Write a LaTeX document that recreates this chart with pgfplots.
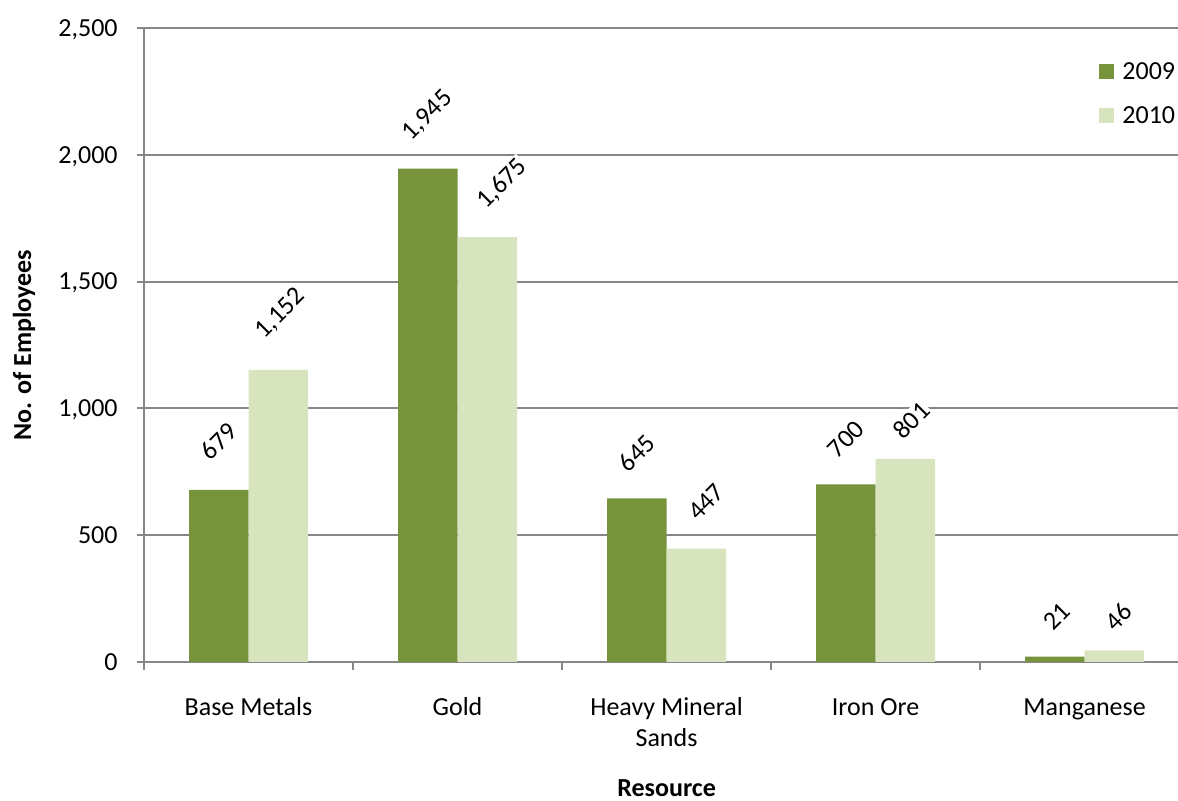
\documentclass[border=0pt]{standalone}
\usepackage{pgfplots}
\pgfplotsset{compat=1.18}
\usepackage{fontspec}
\setmainfont{Carlito}
\usepackage{graphicx}

\definecolor{darkolive}{HTML}{77933C}
\definecolor{lightolive}{HTML}{D7E4BD}
\definecolor{gridgray}{HTML}{868686}

% value label: number on a tight white patch, turned 45 degrees
\newcommand{\barlabel}[1]{{\setlength{\fboxsep}{0.6pt}\rotatebox{45}{\colorbox{white}{#1}}}}

% employees per resource; dx/dy nudge the value labels (pt)
\pgfplotstableread{
x   y     dx   dy
0   679   0    1.5
1   1945  0    0
2   645   0    0
3   700   0    0
4   21    0.8  0
}\yrA
\pgfplotstableread{
x   y     dx   dy
0   1152  1    1.5
1   1675  7.5  0
2   447   5    0.8
3   801   3   -3.5
4   46    2   -3.5
}\yrB

\begin{document}
\begin{tikzpicture}[font=\fontsize{13}{15.5}\selectfont]
\begin{axis}[
  scale only axis,
  width=517pt, height=317pt,
  xmin=-0.5, xmax=4.447,
  ymin=0, ymax=2500,
  ybar=0pt,
  bar width=29.75pt,
  axis x line*=bottom,
  axis y line*=left,
  axis line style={draw=gridgray, line width=1pt, -},
  ymajorgrids,
  major grid style={draw=gridgray, line width=1pt},
  ytick={0,500,...,2500},
  xtick={0,1,2,3,4},
  xticklabels={\strut Base Metals, \strut Gold, {\strut Heavy Mineral\\Sands}, \strut Iron Ore, \strut Manganese},
  minor xtick={-0.5,0.5,1.5,2.5,3.5},
  tick align=outside,
  major tick length=3.5pt,
  minor tick length=4pt,
  major x tick style={draw=none},
  minor x tick style={draw=gridgray, line width=1pt},
  ytick style={draw=gridgray, line width=1pt},
  /pgf/number format/1000 sep={,},
  /pgf/number format/assume math mode=true,
  xticklabel style={align=center, anchor=north, inner sep=0pt, yshift=-12.4pt},
  yticklabel style={anchor=base east, inner sep=0pt, xshift=-9.5pt, yshift=-4.2pt},
  xlabel={\bfseries Resource},
  xlabel style={at={(axis description cs:0.5054,0)}, anchor=base, inner sep=0pt, yshift=-67.5pt},
  ylabel={\bfseries No. of Employees},
  ylabel style={at={([xshift=-60pt]axis description cs:0,0.5)}, anchor=center, inner sep=0pt},
  nodes near coords={\barlabel{\pgfmathprintnumber{\pgfplotspointmeta}}},
  every node near coord/.append style={anchor=south, inner sep=0pt, yshift=11.5pt, text=black,
    xshift=\dx pt, yshift=\dy pt},
  legend style={draw=none, fill=none, at={(rel axis cs:0.9236,0.9454)}, anchor=north west,
    inner sep=0pt, column sep=4pt, row sep=13.6pt,
    nodes={inner sep=0pt, text height=8.4pt, text depth=0pt}},
  legend cell align=left,
  legend image code/.code={\path[#1, draw=none] (0pt,-3.85pt) rectangle (7.5pt,3.65pt);},
]
\addplot[fill=darkolive, draw=none,
  visualization depends on={\thisrow{dx} \as \dx},
  visualization depends on={\thisrow{dy} \as \dy}] table[x=x, y=y] {\yrA};
\addplot[fill=lightolive, draw=none,
  visualization depends on={\thisrow{dx} \as \dx},
  visualization depends on={\thisrow{dy} \as \dy}] table[x=x, y=y] {\yrB};
\legend{2009, 2010}
\coordinate (O) at (rel axis cs:0,0);
\end{axis}
\pgfresetboundingbox
\path[use as bounding box] ([xshift=-72pt,yshift=-69.5pt]O) rectangle ([xshift=517pt,yshift=331pt]O);
\end{tikzpicture}
\end{document}
